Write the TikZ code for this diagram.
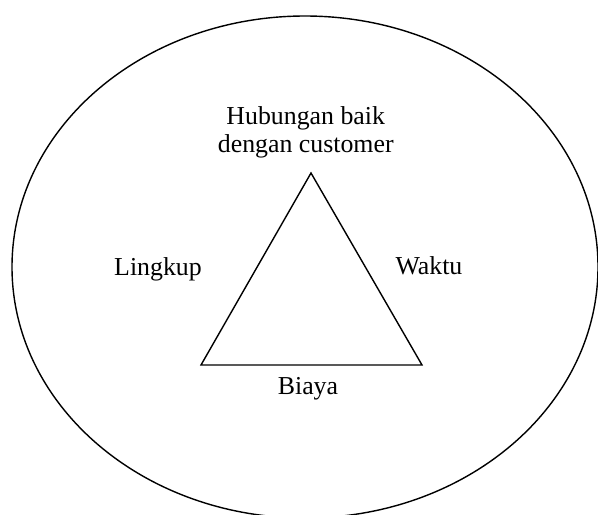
\documentclass[tikz,border=0pt]{standalone}
\usepackage{fontspec}
\setmainfont{Liberation Serif}
\usetikzlibrary{positioning}
\usetikzlibrary{calc}
\tikzset{
  term/.style    = { font=\fontsize{14.7}{15.9}\selectfont, inner sep=0pt },
  ring/.style    = { thick },
  side/.style    = { thick, line join=miter }
}

\begin{document}
\begin{tikzpicture}[x=0.02cm,y=-0.02cm]
  \useasboundingbox (0,0) rectangle (598,514);

  \draw [ring] (305,267) ellipse [x radius=293, y radius=251];

  \coordinate (apex)  at (311,173);
  \coordinate (left)  at (201,365);
  \coordinate (right) at (422,365);
  \coordinate (base)  at ($(left)!0.5!(right)$);
  \draw [side] (apex) -- (left) -- (right) -- cycle;

  \node (rel)   [term,align=center,above=0.3cm of apex,xshift=-3] {Hubungan baik\\dengan customer};
  \node (cost)  [term,below=0.24cm of base,xshift=-2]              {Biaya};
  \node (range) [term,anchor=base] at (158,275)                    {Lingkup};
  \node (time)  [term,anchor=base] at (429,274)                    {Waktu};
\end{tikzpicture}
\end{document}
